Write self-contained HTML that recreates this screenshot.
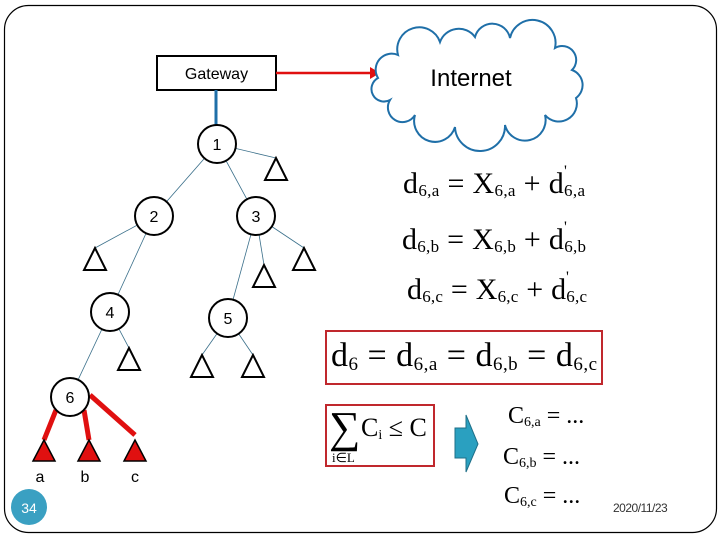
<!DOCTYPE html>
<html><head><meta charset="utf-8"><style>
html,body{margin:0;padding:0;background:#fff;}
svg{display:block;}
</style></head><body>
<svg width="720" height="540" viewBox="0 0 720 540" xmlns="http://www.w3.org/2000/svg">
<rect x="4.5" y="5.5" width="712" height="527" rx="24" fill="none" stroke="#000" stroke-width="1.2"/>
<!-- Gateway -->
<rect x="157" y="56" width="119" height="34" fill="#fff" stroke="#000" stroke-width="2"/>
<text x="216.5" y="79" font-family="Liberation Sans, sans-serif" font-size="16" text-anchor="middle">Gateway</text>
<line x1="216" y1="90" x2="216" y2="125" stroke="#1f6fa8" stroke-width="3"/>
<line x1="276" y1="73" x2="372" y2="73" stroke="#e01010" stroke-width="2.5"/>
<polygon points="380,73 370,67 370,79" fill="#e01010"/>
<!-- Cloud -->
<path d="M378,78 A16,16 0 0 1 398,55 A22,22 0 0 1 440,42 A20,20 0 0 1 475,37 A18,18 0 0 1 510,38 A20,20 0 0 1 555,48 A14,14 0 0 1 572,70 A16,16 0 0 1 576,98 A18,18 0 0 1 545,115 A20,20 0 0 1 505,125 A25,25 0 0 1 455,127 A20,20 0 0 1 415,115 A14,14 0 0 1 390,100 A12,12 0 0 1 378,78 Z" fill="#fff" stroke="#1f6fa8" stroke-width="2"/>
<text x="471" y="86" font-family="Liberation Sans, sans-serif" font-size="24" text-anchor="middle">Internet</text>
<!-- tree edges -->
<g stroke="#3a6f8a" stroke-width="0.8">
<line x1="217" y1="144" x2="276" y2="158"/>
<line x1="217" y1="144" x2="154" y2="216"/>
<line x1="217" y1="144" x2="256" y2="216"/>
<line x1="154" y1="216" x2="95" y2="248"/>
<line x1="154" y1="216" x2="110" y2="312"/>
<line x1="256" y1="216" x2="304" y2="248"/>
<line x1="256" y1="216" x2="264" y2="265"/>
<line x1="256" y1="216" x2="228" y2="318"/>
<line x1="110" y1="312" x2="129" y2="348"/>
<line x1="110" y1="312" x2="70" y2="397"/>
<line x1="228" y1="318" x2="202" y2="355"/>
<line x1="228" y1="318" x2="253" y2="355"/>
</g>
<g stroke="#e01010" stroke-width="5">
<line x1="56" y1="410" x2="44" y2="440"/>
<line x1="84" y1="410" x2="89" y2="440"/>
<line x1="90" y1="395" x2="135" y2="435"/>
</g>
<!-- triangles -->
<g fill="#fff" stroke="#000" stroke-width="2">
<polygon points="276,158 265,180 287,180"/>
<polygon points="95,248 84,270 106,270"/>
<polygon points="304,248 293,270 315,270"/>
<polygon points="264,265 253,287 275,287"/>
<polygon points="129,348 118,370 140,370"/>
<polygon points="202,355 191,377 213,377"/>
<polygon points="253,355 242,377 264,377"/>
</g>
<g fill="#e01010" stroke="#000" stroke-width="1.5">
<polygon points="44,440 33,461 55,461"/>
<polygon points="89,440 78,461 100,461"/>
<polygon points="135,440 124,461 146,461"/>
</g>
<!-- nodes -->
<g fill="#fff" stroke="#000" stroke-width="2">
<circle cx="217" cy="144" r="19"/>
<circle cx="154" cy="216" r="19"/>
<circle cx="256" cy="216" r="19"/>
<circle cx="110" cy="312" r="19"/>
<circle cx="228" cy="318" r="19"/>
<circle cx="70" cy="397" r="19"/>
</g>
<g font-family="Liberation Sans, sans-serif" font-size="16" text-anchor="middle">
<text x="217" y="150">1</text>
<text x="154" y="222">2</text>
<text x="256" y="222">3</text>
<text x="110" y="318">4</text>
<text x="228" y="324">5</text>
<text x="70" y="403">6</text>
<text x="40" y="482">a</text>
<text x="85" y="482">b</text>
<text x="135" y="482">c</text>
</g>
<circle cx="29" cy="507" r="18" fill="#3aa0c2"/>
<text x="29" y="513" font-family="Liberation Sans, sans-serif" font-size="14" fill="#fff" text-anchor="middle">34</text>
<!-- equations -->
<g font-family="Liberation Serif, serif" fill="#000">
<text x="403" y="193" font-size="30" textLength="182" lengthAdjust="spacing">d<tspan font-size="17" dy="3">6,a</tspan><tspan dy="-3"> = X</tspan><tspan font-size="17" dy="3">6,a</tspan><tspan dy="-3"> + d</tspan><tspan font-size="17" dy="3">6,a</tspan></text>
<text x="564" y="176" font-size="16">'</text>
<text x="402" y="249" font-size="30" textLength="184" lengthAdjust="spacing">d<tspan font-size="17" dy="3">6,b</tspan><tspan dy="-3"> = X</tspan><tspan font-size="17" dy="3">6,b</tspan><tspan dy="-3"> + d</tspan><tspan font-size="17" dy="3">6,b</tspan></text>
<text x="564" y="232" font-size="16">'</text>
<text x="407" y="299" font-size="30" textLength="180" lengthAdjust="spacing">d<tspan font-size="17" dy="3">6,c</tspan><tspan dy="-3"> = X</tspan><tspan font-size="17" dy="3">6,c</tspan><tspan dy="-3"> + d</tspan><tspan font-size="17" dy="3">6,c</tspan></text>
<text x="566" y="282" font-size="16">'</text>
<text x="331" y="366" font-size="34" textLength="266" lengthAdjust="spacing">d<tspan font-size="19" dy="4">6</tspan><tspan dy="-4"> = d</tspan><tspan font-size="19" dy="4">6,a</tspan><tspan dy="-4"> = d</tspan><tspan font-size="19" dy="4">6,b</tspan><tspan dy="-4"> = d</tspan><tspan font-size="19" dy="4">6,c</tspan></text>
<text x="329" y="442" font-size="44">∑</text>
<text x="332" y="462" font-size="13">i∈L</text>
<text x="361" y="436" font-size="26">C<tspan font-size="14" dy="3">i</tspan><tspan dy="-3"> ≤ C</tspan></text>
<text x="508" y="423" font-size="24">C<tspan font-size="14" dy="3">6,a</tspan><tspan dy="-3"> = ...</tspan></text>
<text x="503" y="464" font-size="24">C<tspan font-size="14" dy="3">6,b</tspan><tspan dy="-3"> = ...</tspan></text>
<text x="504" y="503" font-size="24">C<tspan font-size="14" dy="3">6,c</tspan><tspan dy="-3"> = ...</tspan></text>
</g>
<rect x="326" y="331" width="276" height="53" fill="none" stroke="#c0282d" stroke-width="2"/>
<rect x="326" y="405" width="108" height="61" fill="none" stroke="#c0282d" stroke-width="2"/>
<polygon points="455,428 466,428 466,415 478,444 466,472 466,458 455,458" fill="#2aa0c0" stroke="#1f6f88" stroke-width="1"/>
<text x="613" y="512" font-family="Liberation Sans, sans-serif" font-size="12" fill="#333" letter-spacing="-0.5">2020/11/23</text>
</svg>
</body></html>
